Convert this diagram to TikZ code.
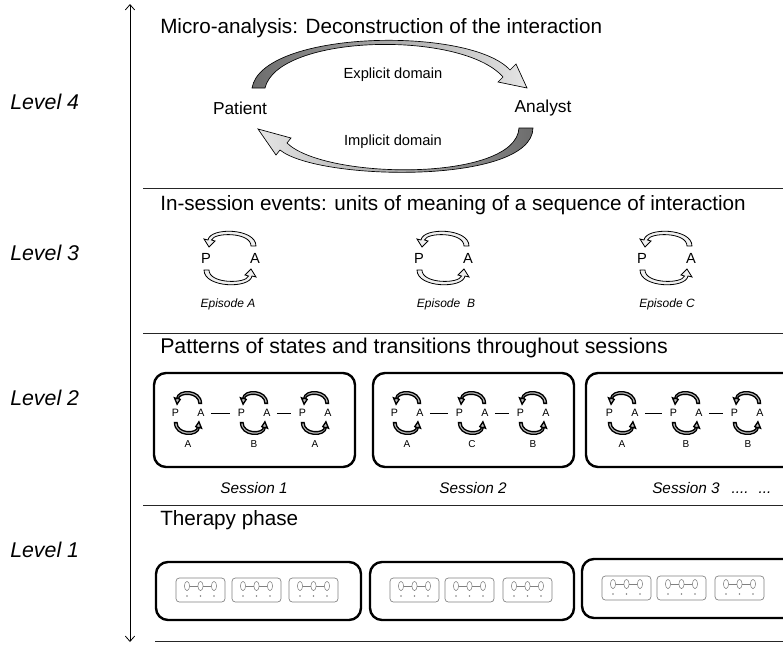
\documentclass[tikz,border=0pt]{standalone}
\usepackage{fontspec}
\setmainfont{Liberation Sans}
\usetikzlibrary{positioning,shapes,arrows,arrows.meta}

\begin{document}
\begin{tikzpicture}[x=0.75pt,y=-0.75pt,font=\small,
      levelname/.style={right, inner sep=0, font=\fontsize{16}{19}\selectfont\itshape},
      heading/.style={right, inner sep=0, font=\fontsize{15.5}{18}\selectfont},
      wide heading/.style={heading, font=\fontsize{16}{19}\selectfont},
      sep/.style={draw=black!85, line width=0.7pt},
      person/.style={font=\fontsize{13}{15}\selectfont},
      domainlabel/.style={font=\fontsize{11}{13}\selectfont},
      bigarrow/.style={draw=black, line width=0.5pt},
      loopband/.style={draw=black, line width=0.6pt, fill=gray!12},
      letter/.style={inner sep=1pt, font=\fontsize{11}{13}\selectfont},
      caption/.style={font=\fontsize{9}{11}\selectfont\itshape},
      session/.style={font=\fontsize{11.5}{14}\selectfont\itshape},
      statename/.style={font=\fontsize{7.5}{9}\selectfont},
      small pair/.style={xscale=0.52, yscale=0.8, loopband/.append style={line width=1pt, fill=gray!55},
         letter/.append style={font=\fontsize{8}{10}\selectfont}},
      link/.style={line width=0.7pt, shorten <=3.5pt, shorten >=4.5pt},
      bigbox/.style={draw=black, line width=1.8pt, rounded corners=9pt},
      minibox/.style={draw=gray, line width=0.5pt, rounded corners=2.5pt},
      episode/.pic={
         \draw [loopband] (26,-12) .. controls (26,-30) and (-20,-31) .. (-22,-18) -- (-26,-19) -- (-21,-11) -- (-15,-17) -- (-18.5,-18) .. controls (-16,-26) and (21,-26) .. (21,-12) -- cycle;
         \draw [loopband, rotate=180] (26,-12) .. controls (26,-30) and (-20,-31) .. (-22,-18) -- (-26,-19) -- (-21,-11) -- (-15,-17) -- (-18.5,-18) .. controls (-16,-26) and (21,-26) .. (21,-12) -- cycle;
         \node [letter] (-P) at (-24,0) {P};
         \node [letter] (-A) at (25,0) {A};
      },
      chain/.pic={
         \draw [minibox] (0,0) rectangle (49,24);
         \draw [gray, line width=0.4pt] (11,8) ellipse (2.6 and 4.6) (24.5,8) ellipse (2.6 and 4.6) (38,8) ellipse (2.6 and 4.6);
         \draw [gray, line width=0.4pt] (13.6,8) -- (21.9,8) (27.1,8) -- (35.4,8);
         \fill [gray] (11,18) circle (0.8) (24.5,18) circle (0.8) (38,18) circle (0.8);
      }]

      %   \draw[help lines] (0, 0) grid (783, 647);
      \useasboundingbox (0, 0) rectangle (783, 647);

      \coordinate (scaletop) at (130, 4);
      \coordinate (scalebottom) at (130, 642);
      \draw [{Straight Barb[length=4pt,width=7pt]}-{Straight Barb[length=4pt,width=7pt]}, line width=0.6pt] (scaletop) -- (scalebottom);

      \draw [sep] (143, 188) -- (783, 188);
      \draw [sep] (143, 333) -- (783, 333);
      \draw [sep] (143, 505) -- (783, 505);
      \draw [sep] (155, 641) -- (783, 641);

      \node [levelname] (lvl4) at (10, 102) {Level 4};
      \node [levelname] (lvl3) at (10, 253) {Level 3};
      \node [levelname] (lvl2) at (10, 398) {Level 2};
      \node [levelname] (lvl1) at (10, 550) {Level 1};

      % level 4
      \node [heading] (head4) at (160, 28) {Micro-analysis: Deconstruction of the interaction};
      \node [person] (patient) at (240, 108) {Patient};
      \node [person] (analyst) at (543, 108) {Analyst};
      \node [domainlabel] (explicit) at (393, 75) {Explicit domain};
      \node [domainlabel] (implicit) at (393, 142) {Implicit domain};
      \draw [bigarrow, left color=gray!85!black, right color=gray!20] (252, 88) .. controls (262, 30) and (470, 26) .. (510, 70) -- (516, 64) -- (527, 88) -- (498, 82) -- (503, 77) .. controls (462, 30) and (278, 34) .. (265, 88) -- cycle;
      \draw [bigarrow, left color=gray!20, right color=gray!85!black] (533, 128) .. controls (532, 185) and (318, 181) .. (280, 150) -- (276, 155) -- (258, 129) -- (291, 138) -- (287, 143) .. controls (325, 180) and (516, 182) .. (519, 128) -- cycle;

      % level 3
      \node [heading] (head3) at (160, 205) {In-session events: units of meaning of a sequence of interaction};
      \pic (epA) at (230, 258) {episode};
      \pic (epB) at (443, 258) {episode};
      \pic (epC) at (666, 258) {episode};
      \node [caption] (epA-name) at (228, 304) {Episode A};
      \node [caption] (epB-name) at (446, 304) {Episode \ B};
      \node [caption] (epC-name) at (667, 304) {Episode C};

      % level 2
      \node [wide heading] (head2) at (160, 348) {Patterns of states and transitions throughout sessions};

      \draw [bigbox] (154, 373) rectangle (355, 467);
      \pic [small pair] (s1a) at (188, 413) {episode};
      \pic [small pair] (s1b) at (254, 413) {episode};
      \pic [small pair] (s1c) at (315, 413) {episode};
      \draw [link] (s1a-A) -- (s1b-P);
      \draw [link] (s1b-A) -- (s1c-P);
      \node [statename] (s1a-x) at (188, 444) {A};
      \node [statename] (s1b-x) at (254, 444) {B};
      \node [statename] (s1c-x) at (315, 444) {A};
      \node [session] (s1-name) at (254, 488) {Session 1};

      \draw [bigbox] (373, 373) rectangle (574, 467);
      \pic [small pair] (s2a) at (407, 413) {episode};
      \pic [small pair] (s2b) at (472, 413) {episode};
      \pic [small pair] (s2c) at (533, 413) {episode};
      \draw [link] (s2a-A) -- (s2b-P);
      \draw [link] (s2b-A) -- (s2c-P);
      \node [statename] (s2a-x) at (407, 444) {A};
      \node [statename] (s2b-x) at (472, 444) {C};
      \node [statename] (s2c-x) at (533, 444) {B};
      \node [session] (s2-name) at (473, 488) {Session 2};

      \draw [bigbox] (586, 373) rectangle (820, 467);
      \pic [small pair] (s3a) at (622, 413) {episode};
      \pic [small pair] (s3b) at (686, 413) {episode};
      \pic [small pair] (s3c) at (747, 413) {episode};
      \draw [link] (s3a-A) -- (s3b-P);
      \draw [link] (s3b-A) -- (s3c-P);
      \node [statename] (s3a-x) at (622, 444) {A};
      \node [statename] (s3b-x) at (686, 444) {B};
      \node [statename] (s3c-x) at (748, 444) {B};
      \node [session, right, inner sep=0] (s3-name) at (652, 488) {Session 3\hspace{9pt}.... \ ...};

      % level 1
      \node [heading] (head1) at (160, 520) {Therapy phase};

      \draw [bigbox] (156, 562) rectangle (361, 620);
      \pic (t1a) at (176, 578) {chain};
      \pic (t1b) at (232, 578) {chain};
      \pic (t1c) at (289, 578) {chain};

      \draw [bigbox] (370, 562) rectangle (574, 620);
      \pic (t2a) at (390, 578) {chain};
      \pic (t2b) at (445, 578) {chain};
      \pic (t2c) at (503, 578) {chain};

      \draw [bigbox] (582, 559) rectangle (820, 618);
      \pic (t3a) at (602, 576) {chain};
      \pic (t3b) at (657, 576) {chain};
      \pic (t3c) at (715, 576) {chain};

    \end{tikzpicture}
\end{document}
